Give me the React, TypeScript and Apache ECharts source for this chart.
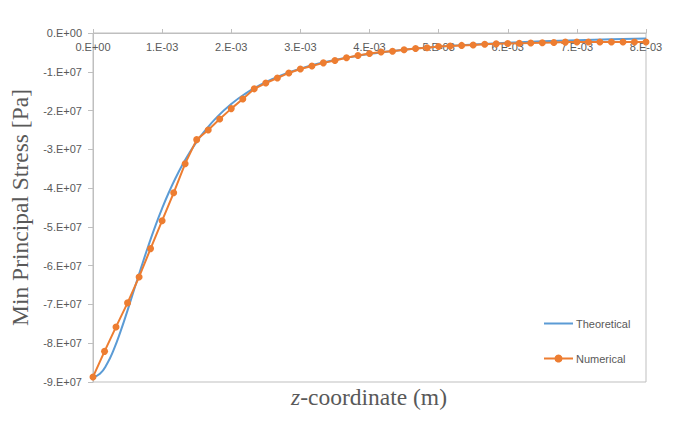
import React, { useEffect, useRef } from "react";
import * as echarts from "echarts";

const theoX = [0, 0.0001, 0.0002, 0.0003, 0.0004, 0.0005, 0.0006, 0.0007, 0.0008, 0.0009, 0.001, 0.0011, 0.0012, 0.0013, 0.0014, 0.0015, 0.0016, 0.0018, 0.002, 0.0022, 0.0024, 0.0026, 0.0028, 0.003, 0.00325, 0.0035, 0.00375, 0.004, 0.0045, 0.005, 0.0055, 0.006, 0.0065, 0.007, 0.0075, 0.008];
const theoY = [-8.87e7, -8.786e7, -8.542e7, -8.164e7, -7.688e7, -7.152e7, -6.59e7, -6.03e7, -5.492e7, -4.987e7, -4.523e7, -4.101e7, -3.721e7, -3.38e7, -3.076e7, -2.805e7, -2.563e7, -2.156e7, -1.831e7, -1.569e7, -1.357e7, -1.183e7, -1.039e7, -0.919e7, -0.795e7, -0.694e7, -0.611e7, -0.542e7, -0.433e7, -0.354e7, -0.295e7, -0.249e7, -0.213e7, -0.184e7, -0.161e7, -0.142e7];

const numX = [0, 0.000167, 0.000333, 0.0005, 0.000667, 0.000833, 0.001, 0.001167, 0.001333, 0.0015, 0.001667, 0.001833, 0.002, 0.002167, 0.002333, 0.0025, 0.002667, 0.002833, 0.003, 0.003167, 0.003333, 0.0035, 0.003667, 0.003833, 0.004, 0.004167, 0.004333, 0.0045, 0.004667, 0.004833, 0.005, 0.005167, 0.005333, 0.0055, 0.005667, 0.005833, 0.006, 0.006167, 0.006333, 0.0065, 0.006667, 0.006833, 0.007, 0.007167, 0.007333, 0.0075, 0.007667, 0.007833, 0.008];
const numY = [-8.87e7, -8.21e7, -7.58e7, -6.96e7, -6.29e7, -5.56e7, -4.84e7, -4.12e7, -3.37e7, -2.75e7, -2.5e7, -2.22e7, -1.95e7, -1.7e7, -1.44e7, -1.29e7, -1.16e7, -1.03e7, -0.93e7, -0.85e7, -0.77e7, -0.71e7, -0.64e7, -0.58e7, -0.53e7, -0.49e7, -0.47e7, -0.43e7, -0.4e7, -0.38e7, -0.35e7, -0.335e7, -0.32e7, -0.31e7, -0.29e7, -0.28e7, -0.27e7, -0.265e7, -0.26e7, -0.25e7, -0.245e7, -0.235e7, -0.23e7, -0.23e7, -0.23e7, -0.23e7, -0.23e7, -0.23e7, -0.23e7];

const seriesNames = ["Theoretical", "Numerical"];
const xTitleItalic = "z";
const xTitleRest = "-coordinate (m)";
const yTitle = "Min Principal Stress [Pa]";

function sci(v: number): string {
  if (Math.abs(v) < 1e-15) return "0.E+00";
  const sign = v < 0 ? "-" : "";
  const a = Math.abs(v);
  let e = Math.floor(Math.log10(a) + 1e-9);
  let m = Math.round(a / Math.pow(10, e));
  if (m >= 10) { m = 1; e += 1; }
  const es = (e < 0 ? "-" : "+") + String(Math.abs(e)).padStart(2, "0");
  return sign + m + ".E" + es;
}

export default function App() {
  const ref = useRef<HTMLDivElement>(null);
  useEffect(() => {
    document.body.style.margin = "0";
    if (!ref.current) return;
    const chart = echarts.init(ref.current, null, { renderer: "svg" });
    const labelFont = "'Liberation Sans', Arial, sans-serif";
    const serif = "'Liberation Serif', 'Times New Roman', serif";
    const titleSize = 23.5;
    chart.setOption({
      animation: false,
      backgroundColor: "#ffffff",
      grid: {
        left: 93, right: 40, top: 33, bottom: 52,
        show: true, borderColor: "#bfbfbf", borderWidth: 1,
        containLabel: false, outerBoundsMode: "none",
      },
      graphic: [
        {
          type: "text",
          x: 369,
          y: 385,
          style: {
            text: "{i|" + xTitleItalic + "}{r|" + xTitleRest + "}",
            align: "center",
            verticalAlign: "top",
            rich: {
              i: { fontFamily: serif, fontSize: titleSize, fontStyle: "italic", fill: "#595959", color: "#595959" },
              r: { fontFamily: serif, fontSize: titleSize, fill: "#595959", color: "#595959" },
            },
          },
        },
      ],
      legend: {
        orient: "vertical",
        left: 543, top: 318, padding: 0,
        itemWidth: 29, itemHeight: 10, itemGap: 24,
        data: [
          { name: seriesNames[0], itemStyle: { opacity: 0 } },
          { name: seriesNames[1] },
        ],
        textStyle: { fontFamily: labelFont, fontSize: 11, color: "#595959", padding: [0, 0, 0, -2] },
      },
      xAxis: {
        type: "value",
        position: "top",
        min: 0, max: 0.008, interval: 0.001,
        axisLine: { show: true, onZero: false, lineStyle: { color: "#bfbfbf", width: 1 } },
        axisTick: { show: true, inside: false, length: 4, lineStyle: { color: "#bfbfbf" } },
        axisLabel: {
          inside: true, margin: 8,
          fontFamily: labelFont, fontSize: 11, color: "#595959",
          formatter: (v: number) => sci(v),
        },
        splitLine: { show: false },
      },
      yAxis: {
        type: "value",
        min: -9e7, max: 0, interval: 1e7,
        name: yTitle,
        nameLocation: "middle",
        nameGap: 57,
        nameTextStyle: { fontFamily: serif, fontSize: titleSize, color: "#595959" },
        axisLine: { show: true, onZero: false, lineStyle: { color: "#bfbfbf", width: 1 } },
        axisTick: { show: true, inside: false, length: 5, lineStyle: { color: "#bfbfbf" } },
        axisLabel: {
          margin: 11,
          fontFamily: labelFont, fontSize: 11, color: "#595959",
          formatter: (v: number) => sci(v),
        },
        splitLine: { show: false },
      },
      series: [
        {
          name: seriesNames[0],
          type: "line",
          data: theoX.map((x, i) => [x, theoY[i]]),
          smooth: true,
          symbol: "none",
          lineStyle: { color: "#5b9bd5", width: 2 },
          itemStyle: { color: "#5b9bd5" },
          z: 2,
        },
        {
          name: seriesNames[1],
          type: "line",
          data: numX.map((x, i) => [x, numY[i]]),
          symbol: "circle",
          symbolSize: 7,
          lineStyle: { color: "#ed7d31", width: 2 },
          itemStyle: { color: "#ed7d31" },
          z: 3,
        },
      ],
    });
    return () => chart.dispose();
  }, []);
  return <div ref={ref} style={{ width: 686, height: 434 }} />;
}
